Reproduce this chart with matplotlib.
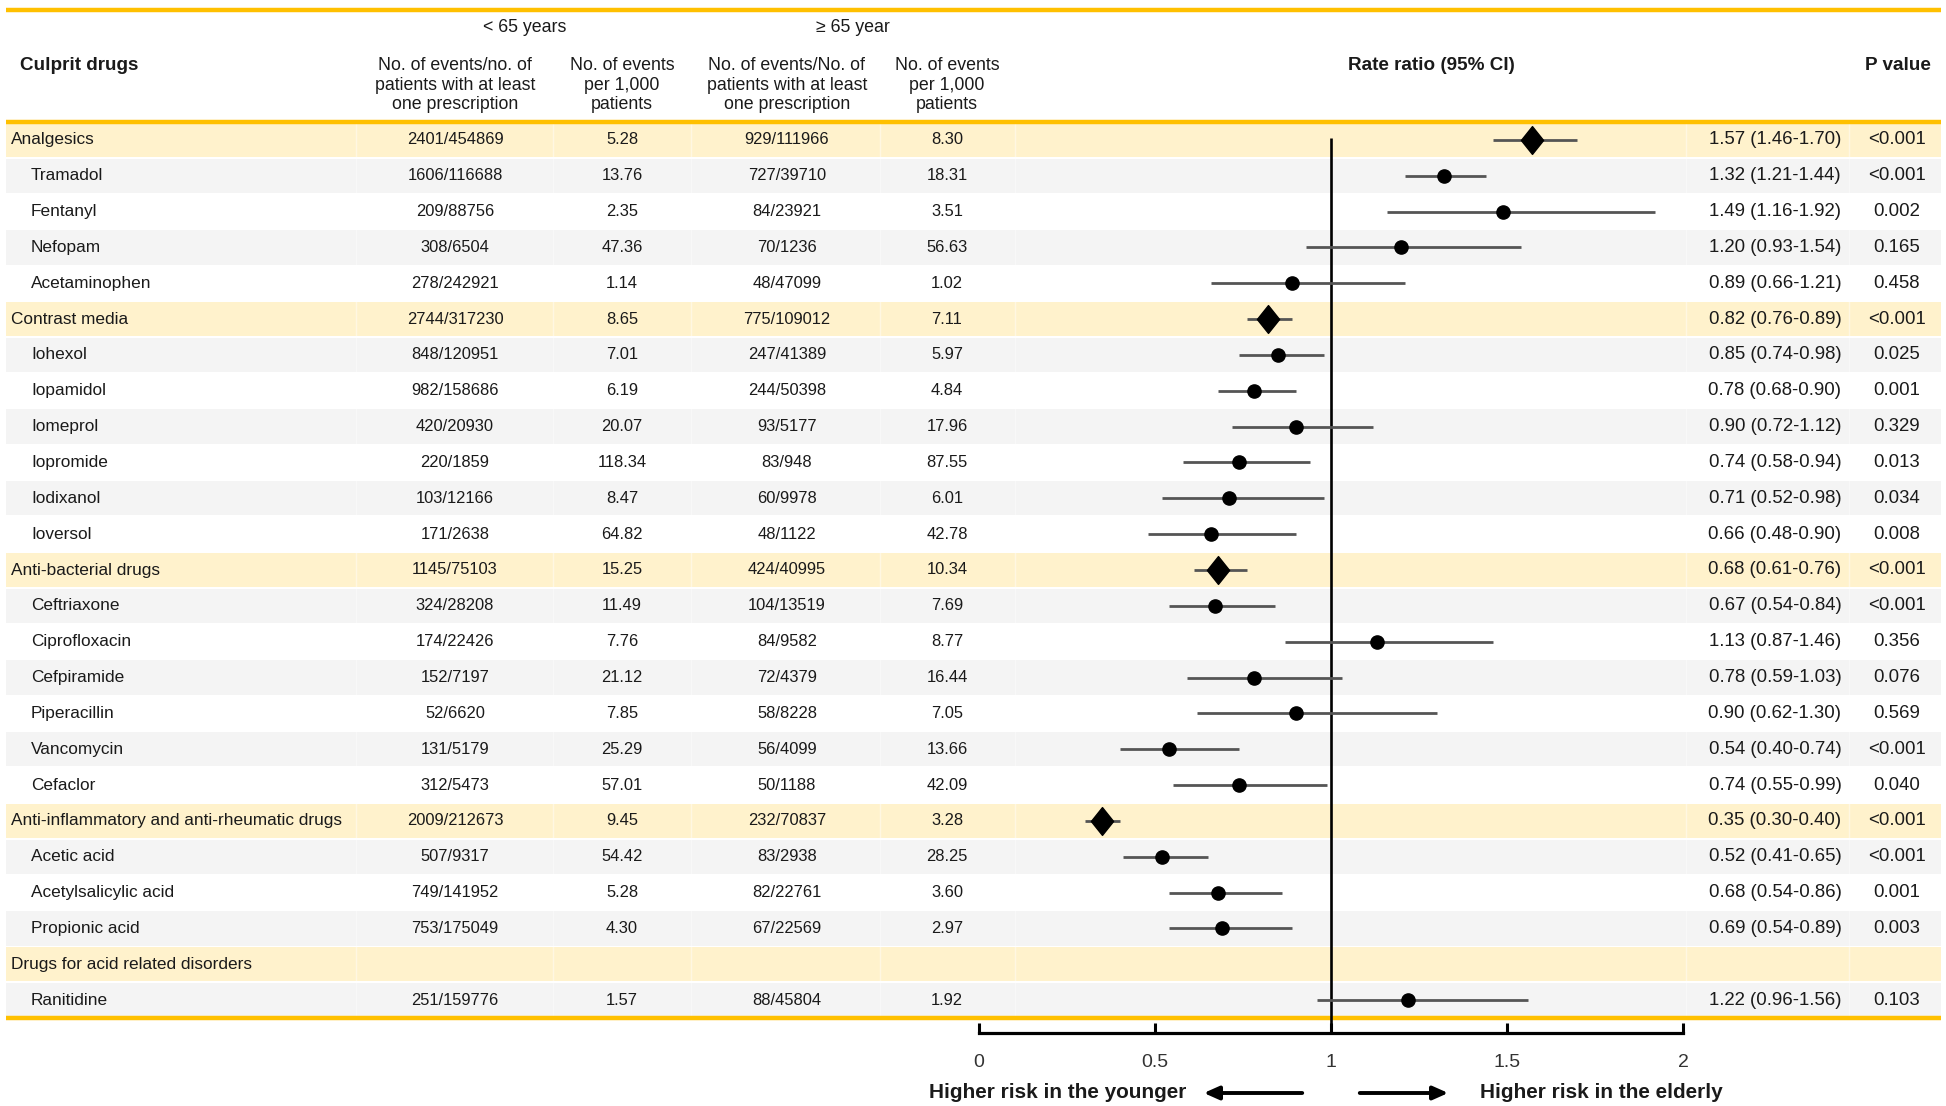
import matplotlib
matplotlib.use("Agg")
import matplotlib.pyplot as plt
from matplotlib import font_manager
from matplotlib.path import Path

# ---------------- data ----------------
drugs = ["Analgesics", "Tramadol", "Fentanyl", "Nefopam", "Acetaminophen",
         "Contrast media", "Iohexol", "Iopamidol", "Iomeprol", "Iopromide", "Iodixanol", "Ioversol",
         "Anti-bacterial drugs", "Ceftriaxone", "Ciprofloxacin", "Cefpiramide", "Piperacillin",
         "Vancomycin", "Cefaclor",
         "Anti-inflammatory and anti-rheumatic drugs", "Acetic acid", "Acetylsalicylic acid",
         "Propionic acid",
         "Drugs for acid related disorders", "Ranitidine"]
is_category = [1, 0, 0, 0, 0,
               1, 0, 0, 0, 0, 0, 0,
               1, 0, 0, 0, 0, 0, 0,
               1, 0, 0, 0,
               1, 0]
young_events = ["2401/454869", "1606/116688", "209/88756", "308/6504", "278/242921",
                "2744/317230", "848/120951", "982/158686", "420/20930", "220/1859", "103/12166", "171/2638",
                "1145/75103", "324/28208", "174/22426", "152/7197", "52/6620", "131/5179", "312/5473",
                "2009/212673", "507/9317", "749/141952", "753/175049",
                "", "251/159776"]
young_rate = ["5.28", "13.76", "2.35", "47.36", "1.14",
              "8.65", "7.01", "6.19", "20.07", "118.34", "8.47", "64.82",
              "15.25", "11.49", "7.76", "21.12", "7.85", "25.29", "57.01",
              "9.45", "54.42", "5.28", "4.30",
              "", "1.57"]
old_events = ["929/111966", "727/39710", "84/23921", "70/1236", "48/47099",
              "775/109012", "247/41389", "244/50398", "93/5177", "83/948", "60/9978", "48/1122",
              "424/40995", "104/13519", "84/9582", "72/4379", "58/8228", "56/4099", "50/1188",
              "232/70837", "83/2938", "82/22761", "67/22569",
              "", "88/45804"]
old_rate = ["8.30", "18.31", "3.51", "56.63", "1.02",
            "7.11", "5.97", "4.84", "17.96", "87.55", "6.01", "42.78",
            "10.34", "7.69", "8.77", "16.44", "7.05", "13.66", "42.09",
            "3.28", "28.25", "3.60", "2.97",
            "", "1.92"]
rr = [1.57, 1.32, 1.49, 1.20, 0.89,
      0.82, 0.85, 0.78, 0.90, 0.74, 0.71, 0.66,
      0.68, 0.67, 1.13, 0.78, 0.90, 0.54, 0.74,
      0.35, 0.52, 0.68, 0.69,
      None, 1.22]
ci_low = [1.46, 1.21, 1.16, 0.93, 0.66,
          0.76, 0.74, 0.68, 0.72, 0.58, 0.52, 0.48,
          0.61, 0.54, 0.87, 0.59, 0.62, 0.40, 0.55,
          0.30, 0.41, 0.54, 0.54,
          None, 0.96]
ci_high = [1.70, 1.44, 1.92, 1.54, 1.21,
           0.89, 0.98, 0.90, 1.12, 0.94, 0.98, 0.90,
           0.76, 0.84, 1.46, 1.03, 1.30, 0.74, 0.99,
           0.40, 0.65, 0.86, 0.89,
           None, 1.56]
p_values = ["<0.001", "<0.001", "0.002", "0.165", "0.458",
            "<0.001", "0.025", "0.001", "0.329", "0.013", "0.034", "0.008",
            "<0.001", "<0.001", "0.356", "0.076", "0.569", "<0.001", "0.040",
            "<0.001", "<0.001", "0.001", "0.003",
            "", "0.103"]
x_ticks = [0, 0.5, 1, 1.5, 2]
x_tick_labels = ["0", "0.5", "1", "1.5", "2"]

# ---------------- style ----------------
names = {f.name for f in font_manager.fontManager.ttflist}
if "Liberation Sans Narrow" in names:
    NARROW = "Liberation Sans Narrow"
    K = 1.0
else:
    NARROW = "Liberation Sans"
    K = 0.85
REG = "Liberation Sans"
plt.rcParams["font.family"] = [NARROW, "DejaVu Sans"]

FS_NAME = 14.6 * K
FS_NUM = 14.0 * K
FS_HDR = 15.0 * K
FS_BOLD = 16.0 * K
FS_REG = 13.4
TXT = "#1a1a1a"

ORANGE = "#FFC000"
YELLOW = "#FFF2CC"
GRAY = "#F4F4F4"
W, H = 1946, 1106
fig = plt.figure(figsize=(W / 100, H / 100), dpi=100)

# overlay axes in pixel coordinates for the table
tab = fig.add_axes([0, 0, 1, 1])
tab.set_xlim(0, W)
tab.set_ylim(H, 0)
tab.axis("off")

n = len(drugs)
table_top, table_bottom = 122, 1018
row_h = (table_bottom - table_top) / n
x_left, x_right = 6, 1941

# row bands
colors = []
k = 0
for c in is_category:
    if c:
        colors.append(YELLOW)
        k = 0
    else:
        colors.append(GRAY if k % 2 == 0 else "white")
        k += 1
centers = [table_top + (i + 0.5) * row_h for i in range(n)]
tab.barh(centers, x_right - x_left, left=x_left, height=row_h - 1.5, color=colors, zorder=0)
# faint column separators
for xs in [356, 553, 691, 880, 1015, 1686, 1849]:
    tab.vlines(xs, table_top, table_bottom, color="white", lw=1.0, alpha=0.45, zorder=0.5)

# orange rules
tab.hlines([10, table_top, table_bottom], x_left, x_right, color=ORANGE, lw=3.2, zorder=2)

# headers
tab.text(525, 27, "< 65 years", ha="center", va="center", fontsize=FS_HDR, color=TXT)
tab.text(853, 27, "\u2265 65 year", ha="center", va="center", fontsize=FS_HDR, color=TXT)
tab.text(20, 66, "Culprit drugs", ha="left", va="center", fontsize=FS_BOLD, fontweight="bold", color=TXT)
hdr = [(455, "No. of events/no. of\npatients with at least\none prescription"),
       (622, "No. of events\nper 1,000\npatients"),
       (787, "No. of events/No. of\npatients with at least\none prescription"),
       (947, "No. of events\nper 1,000\npatients")]
for xh, t in hdr:
    tab.text(xh, 85, t, ha="center", va="center", fontsize=FS_HDR, linespacing=1.22, color=TXT)
tab.text(1431, 66, "Rate ratio (95% CI)", ha="center", va="center", fontsize=FS_BOLD,
         fontweight="bold", color=TXT)
tab.text(1898, 66, "P value", ha="center", va="center", fontsize=FS_BOLD, fontweight="bold", color=TXT)

# table body
for i in range(n):
    y = centers[i]
    tab.text(11 if is_category[i] else 31, y, drugs[i], ha="left", va="center",
             fontsize=FS_NAME, color=TXT)
    tab.text(455, y, young_events[i], ha="center", va="center", fontsize=FS_NUM, color=TXT)
    tab.text(622, y, young_rate[i], ha="center", va="center", fontsize=FS_NUM, color=TXT)
    tab.text(787, y, old_events[i], ha="center", va="center", fontsize=FS_NUM, color=TXT)
    tab.text(947, y, old_rate[i], ha="center", va="center", fontsize=FS_NUM, color=TXT)
    if rr[i] is not None:
        tab.text(1775, y, f"{rr[i]:.2f} ({ci_low[i]:.2f}-{ci_high[i]:.2f})",
                 ha="center", va="center", fontsize=FS_REG, family=REG, color=TXT)
    tab.text(1897, y, p_values[i], ha="center", va="center", fontsize=FS_REG, family=REG, color=TXT)

# ---------------- forest axes ----------------
ax_l, ax_r, ax_bot = 979, 1683, 1033
ax = fig.add_axes([ax_l / W, (H - ax_bot) / H, (ax_r - ax_l) / W, (ax_bot - table_top) / H])
ax.patch.set_alpha(0)
ax.set_xlim(0, 2)
ybot = (ax_bot - table_top) / row_h
ax.set_ylim(ybot, 0)
for s in ["top", "left", "right"]:
    ax.spines[s].set_visible(False)
ax.spines["bottom"].set_linewidth(2.3)
ax.set_yticks([])
ax.set_xticks(x_ticks)
ax.set_xticklabels(x_tick_labels)
ax.tick_params(axis="x", direction="in", length=7, width=2.2, pad=15,
               labelsize=16.5 * K, labelcolor="#333333")

ax.vlines(1, 0.45, ybot, color="black", lw=1.9, zorder=3, clip_on=False)

diamond = Path([(0, 1), (0.8, 0), (0, -1), (-0.8, 0), (0, 1)],
               [Path.MOVETO, Path.LINETO, Path.LINETO, Path.LINETO, Path.CLOSEPOLY])
for i in range(n):
    if rr[i] is None:
        continue
    yc = i + 0.5
    ax.hlines(yc, ci_low[i], ci_high[i], color="#555555", lw=2.0, zorder=4)
    if is_category[i]:
        ax.plot(rr[i], yc, marker=diamond, ms=20, color="black", zorder=5)
    else:
        ax.plot(rr[i], yc, marker="o", ms=9.5, color="black", zorder=5)

# direction labels and arrows (below the axis)
ya = 1092
tab.text(1186, ya, "Higher risk in the younger", ha="right", va="center",
         fontsize=17.6 * K, fontweight="bold", color=TXT)
tab.text(1480, ya, "Higher risk in the elderly", ha="left", va="center",
         fontsize=17.6 * K, fontweight="bold", color=TXT)
tab.annotate("", xy=(1201, ya + 1), xytext=(1305, ya + 1),
             arrowprops=dict(arrowstyle="-|>,head_length=0.9,head_width=0.4", lw=2.8, color="black"))
tab.annotate("", xy=(1451, ya + 1), xytext=(1357, ya + 1),
             arrowprops=dict(arrowstyle="-|>,head_length=0.9,head_width=0.4", lw=2.8, color="black"))

fig.savefig("out.png", dpi=100)
